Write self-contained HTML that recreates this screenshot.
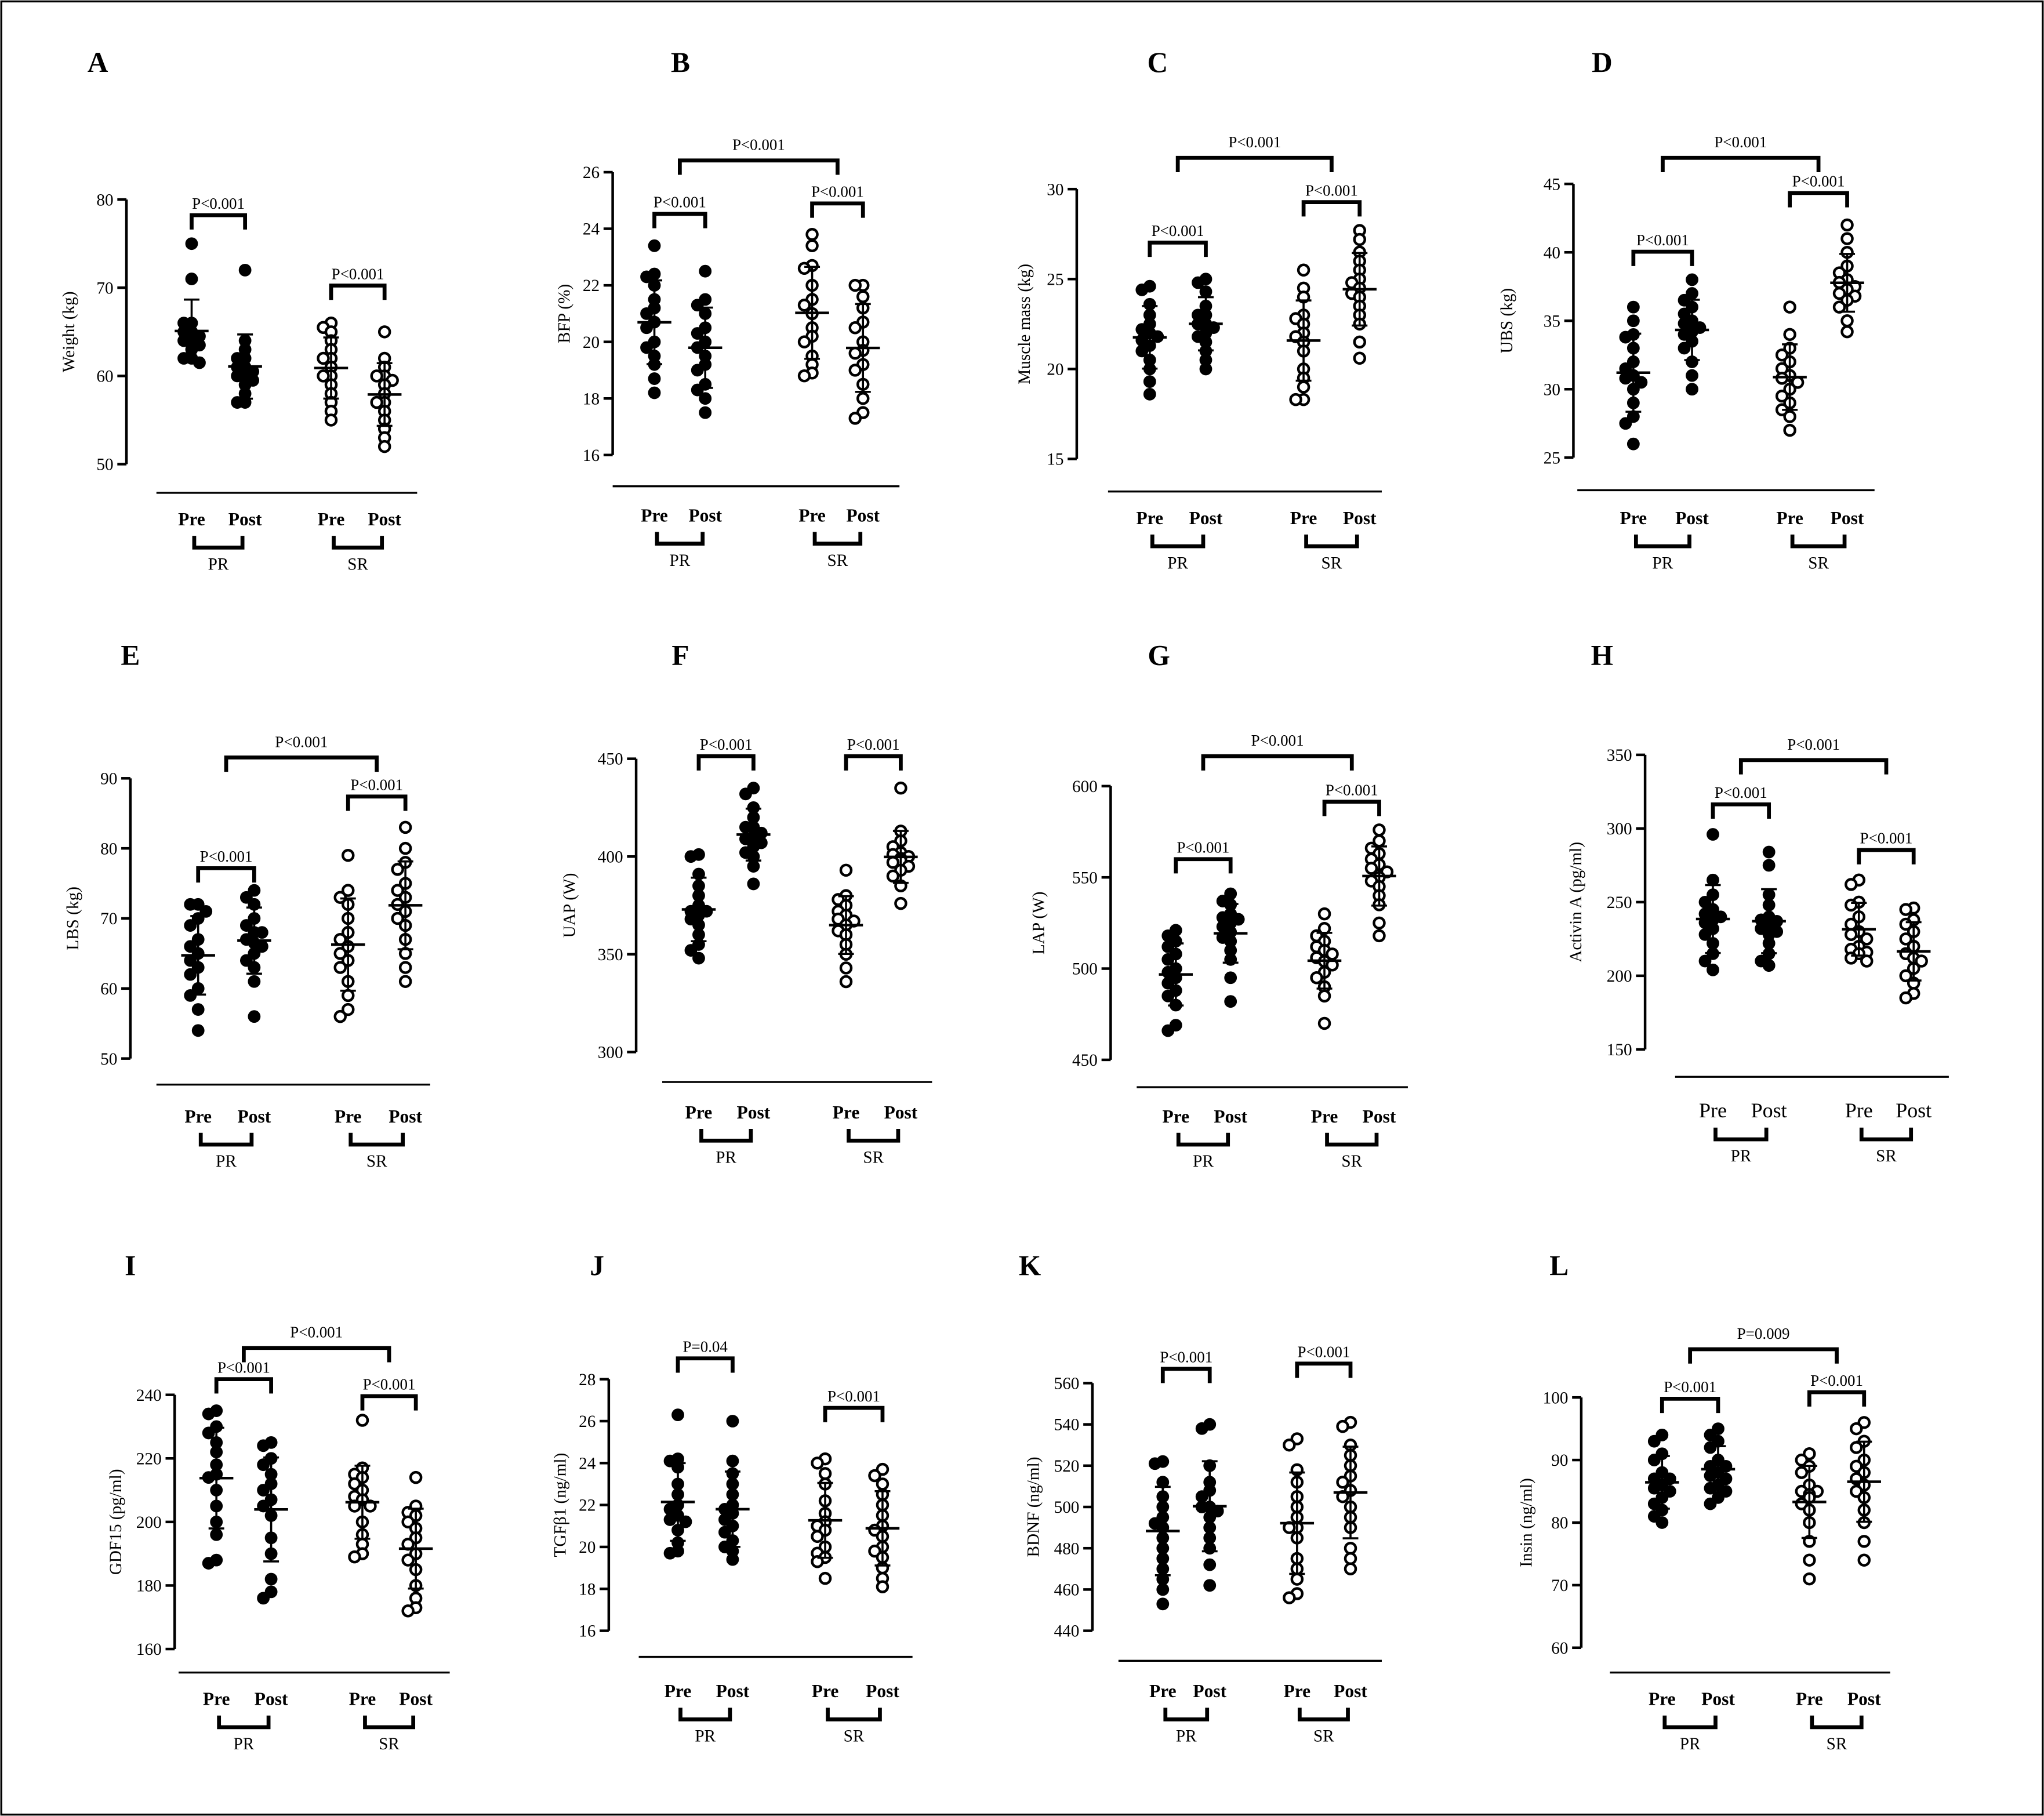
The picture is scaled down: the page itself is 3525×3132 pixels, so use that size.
<!DOCTYPE html>
<html><head><meta charset="utf-8">
<style>
html,body{margin:0;padding:0;background:#fff}
svg{display:block}
text{font-family:"Liberation Serif","Times New Roman",serif;fill:#000}
</style></head>
<body>
<svg id="fig" width="3525" height="3132" viewBox="0 0 1568 1393" xmlns="http://www.w3.org/2000/svg">
<rect x="1" y="1" width="1566" height="1391" fill="#fff" stroke="#000" stroke-width="1.5"/>
</svg>
<script>
// ---- data (values per group: PR pre, PR post, SR pre, SR post) ----
const groupLabels = ["Pre","Post","Pre","Post"];
const dataA = [[75,71,66,65,65,64.5,64,64,63.5,63,62,62,61.5,64,66],[72,64,63,62,61,61,60.5,60,59.5,59,58,57,57,60,62],[66,65.5,65,64,63,62,61,60,59,58,57,56,55,60,62],[65,62,61,60,59.5,59,58,57,56,55,54,53,52,57,60]];
const dataB = [[23.4,22.4,22.3,22,21.5,21,20.7,20.5,20,19.8,19.5,19.2,18.7,18.2,21.2],[22.5,21.5,21.3,21,20.5,20,19.8,19.5,19,18.5,18.3,18,17.5,20.3,19.2],[23.8,23.4,22.7,22.6,22,21.5,21,20.5,20,19.5,19.2,18.9,18.8,21.3,20.2],[22,22,21.6,21.2,20.5,20,19.6,19.2,19,18.5,18,17.5,17.3,19.7,20.7]];
const dataC = [[24.6,24.4,23.6,23,22.5,22,21.6,21.3,21,20.5,20,19.3,18.6,21.8,22.2],[25,24.8,24.3,23.5,23,22.5,22.3,22,21.8,21.5,21,20.5,20,22.5,23],[25.5,24.5,24,23,22.5,22,21.8,21.5,21,20,19.5,19,18.3,18.3,22.8],[27.7,27.2,26.5,26,25.5,25,24.8,24.5,24,23.5,23,22.5,21.5,20.6,24.2]];
const dataD = [[36,35,34,33.8,33,32,31,30.8,30.5,30,29,28,27.5,26,31.5],[38,37,36.5,36,35.5,35,34.5,34.2,34,33.5,33,32,31,30,34.8],[36,34,33,32.5,32,31.5,31,30.8,30,29.5,29,28.5,28,27,30.5],[42,41,40,39,38.5,38,37.8,37.5,37,36.8,36.5,36,35,34.2,37.3]];
const dataE = [[72,72,71,70,69,67,65,64,63,62,60,59,57,54,66],[74,73,72,70,69,68,67,66.5,66,65,64,63,61,56,68],[79,74,73,72,70,68,67,66,64,63,61,59,57,56,65],[83,80,78,77,75,73,72,71,70,69,67,65,63,61,74]];
const dataF = [[401,400,391,385,380,375,372,370,368,365,360,355,352,348,372],[435,432,425,420,415,412,410,409,407,405,402,400,395,386,415],[393,380,378,375,372,370,367,365,362,360,355,350,343,336,368],[435,413,408,405,402,400,399,398,397,395,393,390,385,376,401]];
const dataG = [[521,518,515,512,508,505,500,498,495,492,488,485,480,469,466],[541,537,535,530,527,525,523,520,517,515,510,505,495,482,528],[530,522,518,515,512,508,506,504,502,498,495,490,485,470,510],[576,570,566,563,560,557,553,550,548,545,540,535,525,518,555]];
const dataH = [[296,265,255,250,245,242,240,238,236,232,228,222,215,210,204],[284,275,255,248,240,237,235,232,230,228,222,215,210,207,238],[265,262,250,248,240,235,228,225,220,218,216,215,212,210,230],[246,245,238,235,230,225,220,215,212,210,205,200,195,188,185]];
const dataI = [[235,234,230,228,225,222,218,215,214,210,205,200,196,188,187],[225,224,220,218,215,212,210,207,205,202,195,190,182,178,176],[232,217,215,214,212,210,208,207,205,200,196,193,190,189,205],[214,205,203,202,200,198,195,193,190,188,185,180,176,173,172]];
const dataJ = [[26.3,24.2,24.1,23.8,23,22.5,22,21.8,21.5,21.2,20.8,20.2,19.8,19.7,21.3],[26,24.1,23.5,23,22.5,22,21.6,21.3,21,20.7,20.3,20,19.8,19.4,21.8],[24.2,24,23.5,23,22.2,21.6,21.2,21,20.5,20,19.7,19.5,19.3,18.5,20.8],[23.7,23.4,23,22.5,22,21.5,21,20.5,20,19.8,19.5,19,18.5,18.1,20.8]];
const dataK = [[522,521,512,505,500,495,492,490,485,480,475,470,465,460,453],[540,538,520,512,508,505,500,498,495,490,485,480,472,462,500],[533,530,518,512,505,500,495,490,485,475,470,465,458,456,490],[541,539,530,525,520,512,508,505,500,495,490,480,475,470,515]];
const dataL = [[94,93,91,90,88,87,86,85.5,85,84,83,82,81,80,87],[95,94,93,92,90,89,88,87.5,87,86,85.5,85,84,83,89],[91,90,89,88,86,85,84.5,84,83,82,80,77,74,71,85],[96,95,93,92,90,89,87,86,85,84,82,80,77,74,88]];
const ticksA=[50,60,70,80], ticksB=[16,18,20,22,24,26], ticksC=[15,20,25,30], ticksD=[25,30,35,40,45];
const ticksE=[50,60,70,80,90], ticksF=[300,350,400,450], ticksG=[450,500,550,600], ticksH=[150,200,250,300,350];
const ticksI=[160,180,200,220,240], ticksJ=[16,18,20,22,24,26,28], ticksK=[440,460,480,500,520,540,560], ticksL=[60,70,80,90,100];
const pvals = {A:["P<0.001","P<0.001",null],B:["P<0.001","P<0.001","P<0.001"],C:["P<0.001","P<0.001","P<0.001"],D:["P<0.001","P<0.001","P<0.001"],
E:["P<0.001","P<0.001","P<0.001"],F:["P<0.001","P<0.001",null],G:["P<0.001","P<0.001","P<0.001"],H:["P<0.001","P<0.001","P<0.001"],
I:["P<0.001","P<0.001","P<0.001"],J:["P=0.04","P<0.001",null],K:["P<0.001","P<0.001",null],L:["P<0.001","P<0.001","P=0.009"]};

// ---- layout ----
const panels = [
 {id:"A",data:dataA,ticks:ticksA,ax:97,yTop:153,yBot:356,gx:[147,188,254,295],xl:[120,320],xlY:378,lblY:398,letter:[75,47],ylab:"Weight (kg)",ylx:57,br:[165,219,null]},
 {id:"B",data:dataB,ticks:ticksB,ax:470,yTop:132,yBot:349,gx:[502,541,623,662],xl:[470,690],xlY:373,lblY:395,letter:[522,47],ylab:"BFP (%)",ylx:437,br:[164,156,123]},
 {id:"C",data:dataC,ticks:ticksC,ax:826,yTop:145,yBot:352,gx:[882,925,1000,1043],xl:[850,1060],xlY:377,lblY:397,letter:[888,47],ylab:"Muscle mass (kg)",ylx:790,br:[186,155,121]},
 {id:"D",data:dataD,ticks:ticksD,ax:1207,yTop:141,yBot:351,gx:[1253,1298,1373,1417],xl:[1210,1438],xlY:376,lblY:397,letter:[1229,47],ylab:"UBS (kg)",ylx:1160,br:[193,148,121]},
 {id:"E",data:dataE,ticks:ticksE,ax:100,yTop:597,yBot:812,gx:[152,195,267,311],xl:[120,330],xlY:832,lblY:856,letter:[100,502],ylab:"LBS (kg)",ylx:60,br:[666,611,581]},
 {id:"F",data:dataF,ticks:ticksF,ax:488,yTop:582,yBot:807,gx:[536,578,649,691],xl:[508,715],xlY:830,lblY:853,letter:[522,502],ylab:"UAP (W)",ylx:441,br:[580,580,null]},
 {id:"G",data:dataG,ticks:ticksG,ax:852,yTop:603,yBot:813,gx:[902,944,1016,1058],xl:[872,1080],xlY:834,lblY:856,letter:[889,502],ylab:"LAP (W)",ylx:801,br:[659,615,580]},
 {id:"H",data:dataH,ticks:ticksH,ax:1262,yTop:579,yBot:805,gx:[1314,1357,1426,1468],xl:[1285,1495],xlY:826,lblY:852,letter:[1229,502],ylab:"Activin A (pg/ml)",ylx:1213,br:[617,652,583],big:true},
 {id:"I",data:dataI,ticks:ticksI,ax:134,yTop:1070,yBot:1265,gx:[166,208,278,319],xl:[137,345],xlY:1283,lblY:1303,letter:[100,970],ylab:"GDF15 (pg/ml)",ylx:93,br:[1058,1071,1034]},
 {id:"J",data:dataJ,ticks:ticksJ,ax:467,yTop:1058,yBot:1251,gx:[520,562,633,677],xl:[490,700],xlY:1271,lblY:1297,letter:[458,970],ylab:"TGFβ1 (ng/ml)",ylx:434,br:[1042,1080,null]},
 {id:"K",data:dataK,ticks:ticksK,ax:838,yTop:1061,yBot:1251,gx:[892,928,995,1036],xl:[858,1060],xlY:1274,lblY:1297,letter:[790,970],ylab:"BDNF (ng/ml)",ylx:797,br:[1050,1046,null]},
 {id:"L",data:dataL,ticks:ticksL,ax:1213,yTop:1072,yBot:1264,gx:[1275,1318,1388,1430],xl:[1235,1450],xlY:1283,lblY:1303,letter:[1196,970],ylab:"Insin (ng/ml)",ylx:1175,br:[1073,1068,1035]}
];

const NS="http://www.w3.org/2000/svg";
const svg=document.getElementById("fig");
function mk(tag,attrs,parent,txt){const e=document.createElementNS(NS,tag);for(const k in attrs)e.setAttribute(k,attrs[k]);if(txt!=null)e.textContent=txt;(parent||svg).appendChild(e);return e;}
function line(g,x1,y1,x2,y2,w){return mk("line",{x1,y1,x2,y2,stroke:"#000","stroke-width":w||2},g);}

panels.forEach(p=>{
  const g=mk("g",{});
  
  
  const lo=p.ticks[0], hi=p.ticks[p.ticks.length-1];
  const y=v=>p.yBot-(v-lo)/(hi-lo)*(p.yBot-p.yTop);
  const L=mk("text",{x:p.letter[0],y:p.letter[1]+8,"font-size":22,"font-weight":"bold","text-anchor":"middle"},g,p.id);
  
  
  const ax=line(g,p.ax,p.yTop,p.ax,p.yBot,2);
  
  
  p.ticks.forEach(t=>{
    line(g,p.ax-7,y(t),p.ax,y(t),2);
    const tl=mk("text",{x:p.ax-10,y:y(t)+4.5,"font-size":13,"text-anchor":"end"},g,String(t));
    
    
  });
  const ym=(p.yTop+p.yBot)/2;
  const yl=mk("text",{x:p.ylx,y:ym,"font-size":13,"text-anchor":"middle",transform:`rotate(-90 ${p.ylx} ${ym})`},g,p.ylab);
  
  
  const xa=line(g,p.xl[0],p.xlY,p.xl[1],p.xlY,1.5);
  
  
  const fs=p.big?16:14, fw=p.big?"normal":"bold";
  groupLabels.forEach((lab,i)=>{
    const t=mk("text",{x:p.gx[i],y:p.lblY+5,"font-size":fs,"font-weight":fw,"text-anchor":"middle"},g,lab);
    
    
  });
  [["PR",0],["SR",2]].forEach(([nm,i])=>{
    const by=p.lblY+22;
    const a=p.gx[i]+2,b=p.gx[i+1]-2;
    mk("path",{d:`M${a} ${by-9} V${by} H${b} V${by-9}`,fill:"none",stroke:"#000","stroke-width":3},g);
    const t=mk("text",{x:(p.gx[i]+p.gx[i+1])/2,y:by+17,"font-size":13,"text-anchor":"middle"},g,nm);
    
    
  });
  p.data.forEach((vals,gi)=>{
    const cx=p.gx[gi];
    const placed=[];
    const sorted=vals.map((v,i)=>({v,i})).sort((a,b)=>b.v-a.v);
    sorted.forEach(o=>{
      const py=y(o.v);
      const near=placed.filter(q=>Math.abs(q.py-py)<6);
      let off=0;
      const cands=[0,-6,6,-11,11];
      for(const c of cands){ if(!near.some(q=>Math.abs(q.off-c)<5.5)){off=c;break;} }
      placed.push({py,off});
      const open=gi>=2;
      const c=mk("circle",{cx:cx+off,cy:py,r:open?4:4.6,fill:open?"#fff":"#000",stroke:"#000","stroke-width":open?2:0.5},g);
      
      
    });
    const n=vals.length, m=vals.reduce((a,b)=>a+b,0)/n;
    const sd=Math.sqrt(vals.reduce((a,b)=>a+(b-m)*(b-m),0)/(n-1));
    const ml=line(g,cx-13,y(m),cx+13,y(m),2);
    
    
    const eb=line(g,cx,y(m+sd),cx,y(m-sd),1.6);
    
    
    line(g,cx-6,y(m+sd),cx+6,y(m+sd),1.6);
    line(g,cx-6,y(m-sd),cx+6,y(m-sd),1.6);
  });
  const pv=pvals[p.id];
  [[0,1],[2,3]].forEach(([a,b],k)=>{
    const by=p.br[k]; if(by==null) return;
    mk("path",{d:`M${p.gx[a]} ${by+11} V${by} H${p.gx[b]} V${by+11}`,fill:"none",stroke:"#000","stroke-width":3},g);
    const t=mk("text",{x:(p.gx[a]+p.gx[b])/2,y:by-5,"font-size":12,"text-anchor":"middle"},g,pv[k]);
    
    
  });
  if(p.br[2]!=null){
    const by=p.br[2];
    const a=(p.gx[0]+p.gx[1])/2, b=(p.gx[2]+p.gx[3])/2;
    mk("path",{d:`M${a} ${by+11} V${by} H${b} V${by+11}`,fill:"none",stroke:"#000","stroke-width":3},g);
    const t=mk("text",{x:(a+b)/2,y:by-8,"font-size":12,"text-anchor":"middle"},g,pv[2]);
    
    
  }
});
</script>
</body></html>
